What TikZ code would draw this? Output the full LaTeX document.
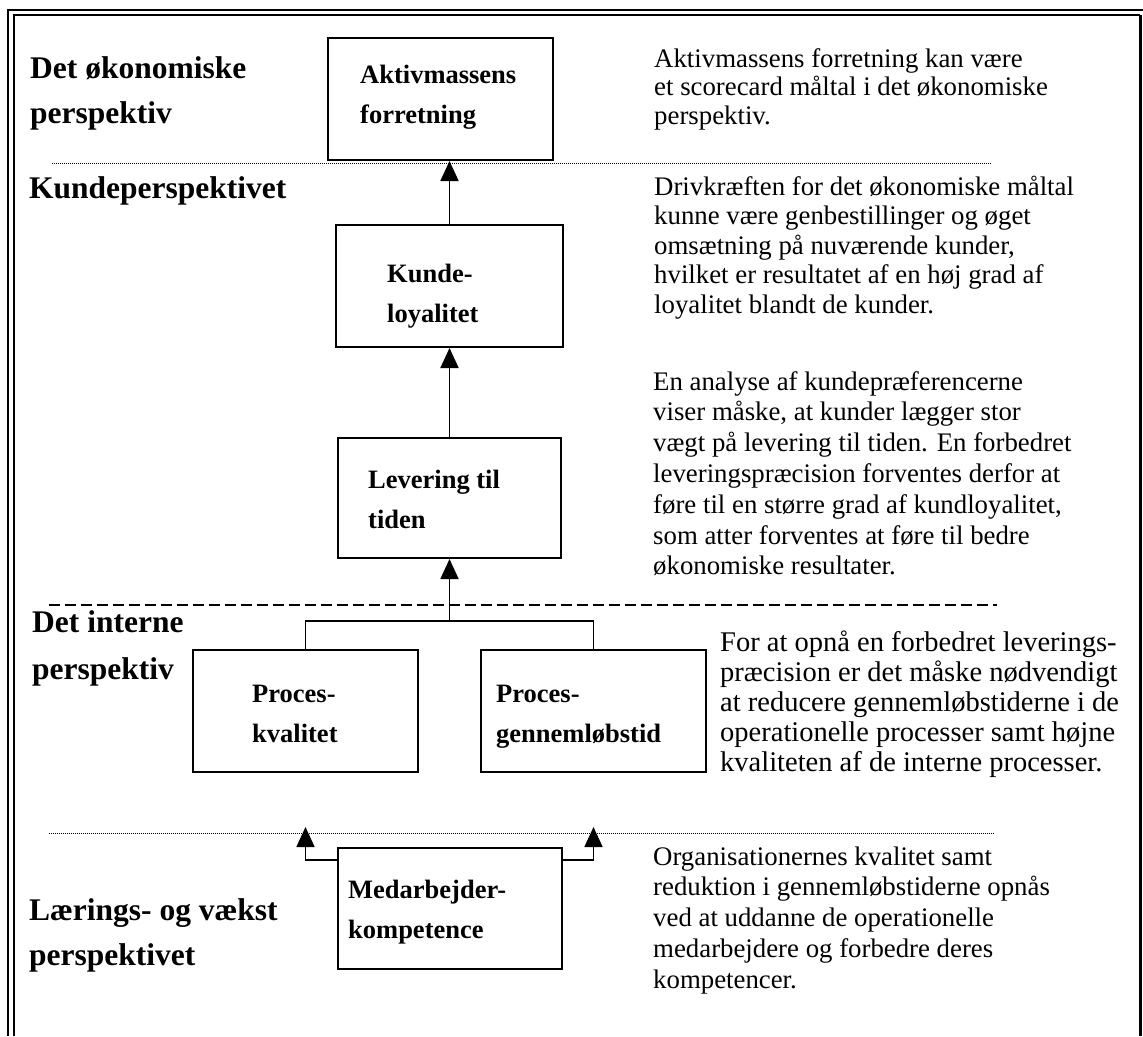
\documentclass[tikz,border=0pt]{standalone}
\usepackage{fontspec}
\setmainfont{Liberation Serif}
\usetikzlibrary{arrows.meta}
% multi-line text whose reference point is the first baseline
\newcommand\txtblock[1]{\begin{tabular}[t]{@{}l@{}}#1\end{tabular}}

\begin{document}
\begin{tikzpicture}[x=1pt,y=-1pt,
  box/.style={draw, line width=2pt, inner sep=0pt},
  heading/.style={anchor=base west, inner sep=0pt, font=\fontsize{31.5}{45}\selectfont\bfseries},
  boxtext/.style={anchor=base west, inner sep=0pt, font=\fontsize{26.5}{40}\selectfont\bfseries},
  note/.style={anchor=base west, inner sep=0pt, font=\fontsize{26.8}{30.8}\selectfont},
  link/.style={line width=1.8pt},
  arrowlink/.style={link, -{Triangle[length=20pt,width=18pt]}},
  sepdotted/.style={line width=1pt, dash pattern=on 1pt off 1pt},
  sepdashed/.style={line width=2pt, dash pattern=on 11pt off 5pt},
]
\fill[white] (0,0) rectangle (1143,1036);
\useasboundingbox (0,0) rectangle (1143,1036);

% page frame: double rule left and top, heavy rule right
\draw[line width=2pt] (8,1036) -- (8,10) -- (1143,10);
\draw[line width=2pt] (14,1036) -- (14,15) -- (1140,15);
\draw[line width=3.5pt] (1140.5,15) -- (1140.5,1036);

% perspective separators
\draw[sepdotted] (52,163) -- (992,163);
\draw[sepdashed] (49,605) -- (997,605);
\draw[sepdotted] (49,833) -- (995,833);

% perspective headings
\node[heading] (hoek) at (30,78) {\txtblock{Det økonomiske\\perspektiv}};
\node[heading] (hkunde) at (29,198) {\txtblock{Kundeperspektivet}};
\node[heading, font=\fontsize{31.5}{47}\selectfont\bfseries] (hintern) at (32,632) {\txtblock{Det interne\\perspektiv}};
\node[heading] (hlaer) at (29,920) {\txtblock{Lærings- og vækst\\perspektivet}};

% measure boxes
\node[box, minimum width=225pt, minimum height=122pt] (aktiv) at (440.5,99) {};
\node[box, minimum width=227pt, minimum height=122pt] (kunde) at (449.5,286) {};
\node[box, minimum width=223pt, minimum height=120pt] (lever) at (449.5,498) {};
\node[box, minimum width=225pt, minimum height=122pt] (kval) at (305.5,711) {};
\node[box, minimum width=225pt, minimum height=122pt] (gennem) at (593.5,711) {};
\node[box, minimum width=224pt, minimum height=121pt] (medarb) at (450,908.5) {};

% box labels
\node[boxtext] (taktiv) at (360,83) {\txtblock{Aktivmassens\\forretning}};
\node[boxtext] (tkunde) at (387,282) {\txtblock{Kunde-\\loyalitet}};
\node[boxtext] (tlever) at (368,488) {\txtblock{Levering til\\tiden}};
\node[boxtext] (tkval) at (252,702) {\txtblock{Proces-\\kvalitet}};
\node[boxtext] (tgennem) at (496,702) {\txtblock{Proces-\\gennemløbstid}};
\node[boxtext] (tmedarb) at (348,898) {\txtblock{Medarbejder-\\kompetence}};

% cause-and-effect links
\draw[arrowlink] (kunde.north) -- (kunde.north |- aktiv.south);
\draw[arrowlink] (lever.north) -- (kunde.south -| lever.north);
\coordinate (fork) at (449.5,621);
\draw[link] (kval.north) |- (fork) -| (gennem.north);
\draw[arrowlink] (fork) -- (lever.south);
\coordinate (ltip) at (305.5,827);
\coordinate (rtip) at (593.5,827);
\draw[arrowlink] (medarb.west |- 0,860) -| (ltip);
\draw[arrowlink] (medarb.east |- 0,860) -| (rtip);

% explanations
\node[note, font=\fontsize{26.8}{28.5}\selectfont] (n1) at (654,67) {\txtblock{Aktivmassens forretning kan være\\et scorecard måltal i det økonomiske\\perspektiv.}};
\node[note, font=\fontsize{26.8}{29.5}\selectfont] (n2) at (654,195) {\txtblock{Drivkræften for det økonomiske måltal\\kunne være genbestillinger og øget\\omsætning på nuværende kunder,\\hvilket er resultatet af en høj grad af\\loyalitet blandt de kunder.}};
\node[note] (n3) at (653,390) {\txtblock{En analyse af kundepræferencerne\\viser måske, at kunder lægger stor\\vægt på levering til tiden. En forbedret\\leveringspræcision forventes derfor at\\føre til en større grad af kundloyalitet,\\som atter forventes at føre til bedre\\økonomiske resultater.}};
\node[note, font=\fontsize{28.5}{30}\selectfont] (n4) at (720,651) {\txtblock{For at opnå en forbedret leverings-\\præcision er det måske nødvendigt\\at reducere gennemløbstiderne i de\\operationelle processer samt højne\\kvaliteten af de interne processer.}};
\node[note] (n5) at (653,865) {\txtblock{Organisationernes kvalitet samt\\reduktion i gennemløbstiderne opnås\\ved at uddanne de operationelle\\medarbejdere og forbedre deres\\kompetencer.}};
\end{tikzpicture}
\end{document}
